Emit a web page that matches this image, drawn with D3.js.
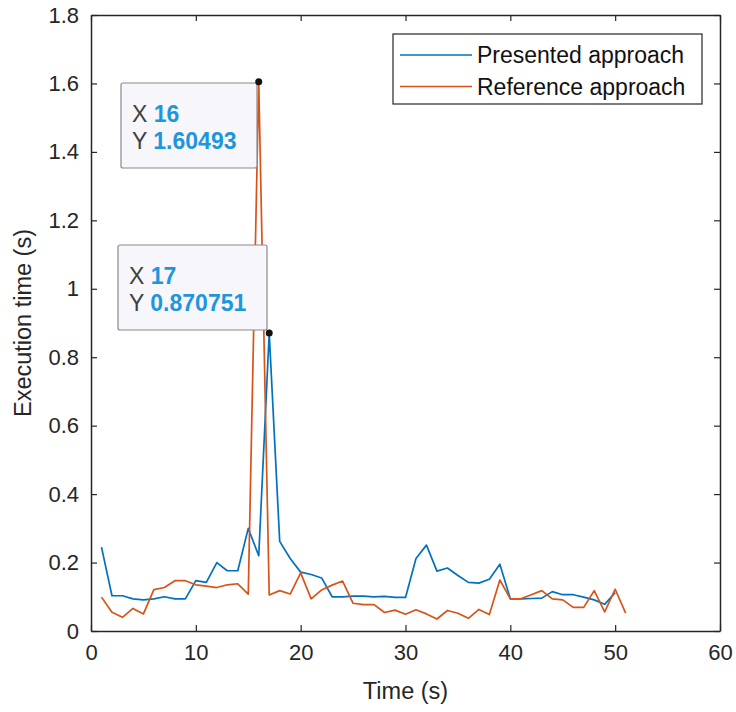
<!DOCTYPE html>
<html><head><meta charset="utf-8">
<script src="https://cdn.jsdelivr.net/npm/d3@7"></script>
<style>body{margin:0;background:#fff}svg{display:block;font-family:"Liberation Sans",Arial,sans-serif}</style>
</head><body>
<svg id="c" width="736" height="712"></svg>
<script>
const timesPresented = d3.range(1, 51);
const presented = [0.245,0.103,0.103,0.094,0.091,0.094,0.100,0.094,0.094,0.147,
 0.142,0.200,0.176,0.176,0.300,0.220,0.870751,0.262,0.212,0.172,
 0.165,0.155,0.100,0.100,0.102,0.102,0.100,0.101,0.098,0.098,
 0.212,0.251,0.175,0.184,0.162,0.142,0.140,0.151,0.195,0.094,
 0.094,0.095,0.096,0.115,0.106,0.106,0.099,0.091,0.078,0.112];
const timesReference = d3.range(1, 52);
const reference = [0.099,0.055,0.040,0.066,0.050,0.121,0.127,0.147,0.147,0.135,
 0.131,0.127,0.135,0.138,0.108,1.60493,0.105,0.118,0.108,0.170,
 0.094,0.120,0.134,0.146,0.081,0.077,0.077,0.054,0.061,0.049,
 0.062,0.050,0.035,0.060,0.052,0.037,0.063,0.048,0.149,0.094,
 0.094,0.106,0.118,0.094,0.091,0.069,0.069,0.118,0.056,0.122,0.052];
const seriesNames = ["Presented approach","Reference approach"];
const xTicks = [0,10,20,30,40,50,60];
const yTicks = [0,0.2,0.4,0.6,0.8,1,1.2,1.4,1.6,1.8];
const dataTips = [{x:16, y:1.60493, label:"1.60493"}, {x:17, y:0.870751, label:"0.870751"}];

const svg = d3.select("#c");
const L=91, R=720, T=15, B=631;
const x = d3.scaleLinear().domain([0,60]).range([L,R]);
const y = d3.scaleLinear().domain([0,1.8]).range([B,T]);
const axisCol="#262626";
const fmt = d => (d===0||d===1)? String(d) : String(+d.toFixed(1));

svg.append("defs").append("clipPath").attr("id","pc").append("rect")
  .attr("x",L).attr("y",T).attr("width",R-L).attr("height",B-T);

const line = (xs) => d3.line().x((d,i)=>x(xs[i])).y(d=>y(d));
const g = svg.append("g").attr("clip-path","url(#pc)");
g.append("path").datum(presented).attr("d",line(timesPresented)).attr("fill","none")
  .attr("stroke","#0072BD").attr("stroke-width",1.7).attr("stroke-linejoin","round");
g.append("path").datum(reference).attr("d",line(timesReference)).attr("fill","none")
  .attr("stroke","#D95319").attr("stroke-width",1.7).attr("stroke-linejoin","round");

// axes
const tl=6;
const axB = svg.append("g").attr("transform",`translate(0,${B})`)
  .call(d3.axisBottom(x).tickValues(xTicks).tickSizeInner(-tl).tickSizeOuter(0).tickPadding(13).tickFormat(d3.format("d")));
const axT = svg.append("g").attr("transform",`translate(0,${T})`)
  .call(d3.axisTop(x).tickValues(xTicks).tickSizeInner(-tl).tickSizeOuter(0).tickFormat(""));
const axL = svg.append("g").attr("transform",`translate(${L},0)`)
  .call(d3.axisLeft(y).tickValues(yTicks).tickSizeInner(-tl).tickSizeOuter(0).tickPadding(12).tickFormat(fmt));
const axR = svg.append("g").attr("transform",`translate(${R},0)`)
  .call(d3.axisRight(y).tickValues(yTicks).tickSizeInner(-tl).tickSizeOuter(0).tickFormat(""));
[axB,axT,axL,axR].forEach(a=>{
  a.select(".domain").attr("stroke",axisCol).attr("stroke-width",1.5);
  a.selectAll(".tick line").attr("stroke",axisCol).attr("stroke-width",1.2);
  a.selectAll("text").attr("fill",axisCol).attr("font-size",22).attr("font-family","Liberation Sans, Arial, sans-serif");
});

svg.append("text").attr("x",(L+R)/2).attr("y",699).attr("text-anchor","middle")
  .attr("font-size",23.5).attr("fill",axisCol).text("Time (s)");
svg.append("text").attr("transform",`translate(31,${(T+B)/2}) rotate(-90)`).attr("text-anchor","middle")
  .attr("font-size",23.5).attr("fill",axisCol).text("Execution time (s)");

// legend
const lg = svg.append("g");
lg.append("rect").attr("x",393).attr("y",34).attr("width",309).attr("height",70)
  .attr("fill","#fff").attr("stroke",axisCol).attr("stroke-width",1.2);
const cols=["#0072BD","#D95319"];
seriesNames.forEach((n,i)=>{
  const yy = 55 + i*31.5;
  lg.append("line").attr("x1",400).attr("x2",472).attr("y1",yy).attr("y2",yy)
    .attr("stroke",cols[i]).attr("stroke-width",1.7);
  lg.append("text").attr("x",477).attr("y",yy+8.3).attr("font-size",23).attr("fill","#111").text(n);
});

// data tips
const tipBoxes = [
  {x0:121, y0:83, w:136, h:85},
  {x0:118, y0:245, w:149, h:85}
];
dataTips.forEach((d,i)=>{
  const b = tipBoxes[i];
  const tg = svg.append("g");
  tg.append("rect").attr("x",b.x0).attr("y",b.y0).attr("width",b.w).attr("height",b.h)
    .attr("rx",2).attr("fill","#f7f7fb").attr("stroke","#8a8a8a").attr("stroke-width",1.2);
  const t1 = tg.append("text").attr("x",b.x0+11).attr("y",b.y0+39).attr("font-size",23);
  t1.append("tspan").attr("fill","#404040").text("X ");
  t1.append("tspan").attr("fill","#1e96dc").attr("font-weight","bold").text(d.x);
  const t2 = tg.append("text").attr("x",b.x0+11).attr("y",b.y0+66).attr("font-size",23);
  t2.append("tspan").attr("fill","#404040").text("Y ");
  t2.append("tspan").attr("fill","#1e96dc").attr("font-weight","bold").text(d.label);
  svg.append("circle").attr("cx",x(d.x)).attr("cy",y(d.y)).attr("r",3.5).attr("fill","#111");
});
</script>
</body></html>
